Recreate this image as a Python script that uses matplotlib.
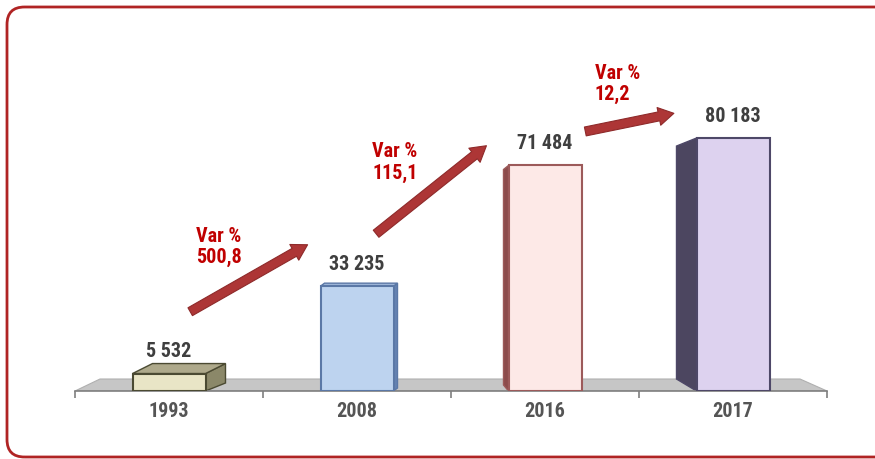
import matplotlib.pyplot as plt
from matplotlib.patches import FancyArrowPatch, FancyBboxPatch

# data
years = ['1993', '2008', '2016', '2017']
values = [5532, 33235, 71484, 80183]
value_labels = ['5 532', '33 235', '71 484', '80 183']
var_labels = ['Var %\n500,8', 'Var %\n115,1', 'Var %\n12,2']

# style
front_colors = ['#e9e5c6', '#bdd3ef', '#fde9e7', '#ddd2ef']
edge_colors = ['#4b4a32', '#5b78a6', '#9c5a5a', '#4e4868']
side_colors = ['#8b8869', '#6583b2', '#8c4c4c', '#4c4660']
top_colors = ['#aea98b', '#9fb7da', '#f4d6d4', '#cfc3e6']
# 3d side offsets in pixels: dx, dy at top, dy at outer bottom
side_dx = [20, 4, -5, -20]
side_dy_top = [10, 3, -4, -8]
side_dy_bot = [8, 3, 6, 12]

PX_X = 1 / 188.0      # category units per pixel
PX_Y = 317.0          # value units per pixel
bar_w = 73 * PX_X

# arrows (data coords) and their text anchors
arrow_tail = [(0.10, 24700), (1.09, 49300), (2.20, 82100)]
arrow_tip = [(0.75, 46800), (1.70, 78300), (2.70, 88200)]
var_pos = [(0.145, 52300), (1.08, 79200), (2.265, 104000)]

plt.rcParams['font.family'] = ['Roboto Condensed', 'PT Sans Narrow', 'DejaVu Sans']

fig = plt.figure(figsize=(8.75, 4.6), dpi=100)
ax = fig.add_axes([75 / 875, 68 / 460, 752 / 875, 372 / 460])
ax.set_xlim(-0.5, 3.5)
ax.set_ylim(0, 372 * PX_Y)

# floor
fh = 12 * PX_Y
ax.fill([-0.5, 3.5, 3.5 - 27 * PX_X, -0.5 + 25 * PX_X],
        [0, 0, fh, fh], color='#c6c6c6', ec='#b0b0b0', lw=0.8, zorder=1)

for i, v in enumerate(values):
    x0 = i - bar_w / 2
    x1 = i + bar_w / 2
    dx = side_dx[i] * PX_X
    dyt = side_dy_top[i] * PX_Y
    dyb = side_dy_bot[i] * PX_Y
    xs = x1 if dx > 0 else x0
    # side face
    ax.fill([xs, xs, xs + dx, xs + dx], [0, v, v + dyt, dyb],
            color=side_colors[i], ec=edge_colors[i], lw=1, zorder=2)
    # top face for bars seen from above
    if dyt > 0:
        ax.fill([x0, x1, x1 + dx, x0 + dx], [v, v, v + dyt, v + dyt],
                color=top_colors[i], ec=edge_colors[i], lw=1, zorder=2)
    ax.bar(i, v, width=bar_w, color=front_colors[i], edgecolor=edge_colors[i],
           linewidth=1.5, zorder=3)
    ax.annotate(value_labels[i], (i, v), xytext=(0, 12.5), textcoords='offset points',
                ha='center', va='baseline', fontsize=14.5, fontweight='bold',
                color='#3f3f3f', zorder=5)

for t, h, p, lab in zip(arrow_tail, arrow_tip, var_pos, var_labels):
    arr = FancyArrowPatch(t, h, arrowstyle='simple,head_width=13,head_length=11,tail_width=6.5',
                          mutation_scale=1, fc='#ad3636', ec='#8e2a2a', lw=0.8, zorder=4)
    ax.add_patch(arr)
    ax.text(p[0], p[1], lab, ha='left', va='top', fontsize=14.5, fontweight='bold',
            color='#c00000', linespacing=1.15, zorder=5)

# axis
for s in ['top', 'right', 'left']:
    ax.spines[s].set_visible(False)
ax.spines['bottom'].set_color('#7f7f7f')
ax.spines['bottom'].set_linewidth(1.2)
ax.set_yticks([])
ax.set_xticks(range(len(years)))
ax.set_xticklabels(years, fontsize=14.5, fontweight='bold', color='#555555')
ax.tick_params(axis='x', which='major', length=0, pad=7)
ax.set_xticks([-0.5, 0.5, 1.5, 2.5, 3.5], minor=True)
ax.tick_params(axis='x', which='minor', length=5, width=1.2, color='#7f7f7f')
ax.patch.set_visible(False)

# rounded frame
frame = FancyBboxPatch((7 / 875, 2 / 460), 900 / 875, 450 / 460,
                       boxstyle='round,pad=0,rounding_size=0.02',
                       transform=fig.transFigure, fill=False,
                       ec='#b02424', lw=2, mutation_aspect=875 / 460)
fig.patches.append(frame)

fig.savefig('out.png', dpi=100)
